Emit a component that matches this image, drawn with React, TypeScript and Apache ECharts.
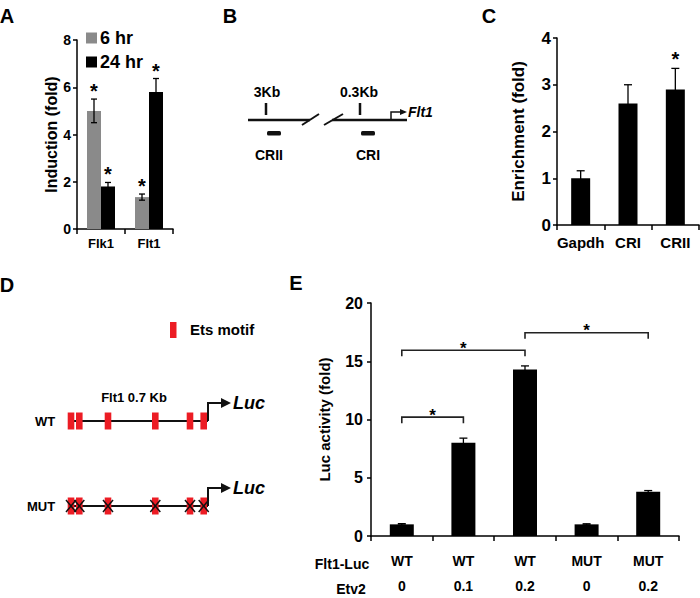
import React, { useEffect, useRef } from "react";
import * as echarts from "echarts";

// ---------- Panel A ----------
const categoriesA = ["Flk1", "Flt1"];
const induction6hr = [5.0, 1.35];
const induction6hrErr = [0.5, 0.13];
const induction24hr = [1.8, 5.8];
const induction24hrErr = [0.17, 0.57];
const sig6hr = [true, true];
const sig24hr = [true, true];
const ticksA = { min: 0, max: 8, interval: 2 };

// ---------- Panel C ----------
const categoriesC = ["Gapdh", "CRI", "CRII"];
const enrichment = [1.0, 2.6, 2.9];
const enrichmentErr = [0.16, 0.4, 0.45];
const sigC = [false, false, true];
const ticksC = { min: 0, max: 4, interval: 1 };

// ---------- Panel E ----------
const flt1Luc = ["WT", "WT", "WT", "MUT", "MUT"];
const etv2 = ["0", "0.1", "0.2", "0", "0.2"];
const lucActivity = [1.0, 8.0, 14.3, 1.0, 3.8];
const lucActivityErr = [0.06, 0.4, 0.3, 0.05, 0.1];
// [from index, to index, bracket height]
const bracketsE = [
  [0, 1, 10.2],
  [0, 2, 15.95],
  [2, 4, 17.45],
];
const ticksE = { min: 0, max: 20, interval: 5 };

const FONT = 'Arial, "Liberation Sans", Helvetica, sans-serif';
const RED = "#ec1c24";
const GRAY = "#8a8a8a";

function errorSeries(
  xi: number,
  values: number[],
  errs: number[],
  sig: boolean[],
  offset: number,
  cap: number,
  starSize: number,
  starGap: number
) {
  return {
    type: "custom",
    xAxisIndex: xi,
    yAxisIndex: xi,
    z: 5,
    silent: true,
    data: values.map((v, i) => [i, v, errs[i], sig[i] ? 1 : 0]),
    encode: { x: 0, y: 1 },
    renderItem: (params: any, api: any) => {
      const c = api.value(0);
      const v = api.value(1);
      const e = api.value(2);
      const s = api.value(3);
      const top = api.coord([c, v + e]);
      const bot = api.coord([c, v - e]);
      const x = top[0] + offset;
      const st = { stroke: "#000", lineWidth: 1.3 };
      const children: any[] = [
        { type: "line", shape: { x1: x, y1: top[1], x2: x, y2: bot[1] }, style: st },
        { type: "line", shape: { x1: x - cap / 2, y1: top[1], x2: x + cap / 2, y2: top[1] }, style: st },
        { type: "line", shape: { x1: x - cap / 2, y1: bot[1], x2: x + cap / 2, y2: bot[1] }, style: st },
      ];
      if (s) {
        children.push({
          type: "text",
          x: x,
          y: top[1] - starGap,
          style: {
            text: "*",
            fontSize: starSize,
            fontWeight: "bold",
            fontFamily: FONT,
            fill: "#000",
            align: "center",
            verticalAlign: "middle",
          },
        });
      }
      return { type: "group", children };
    },
  };
}

function axisY(gi: number, t: { min: number; max: number; interval: number }, name: string, fs: number, nfs: number, gap: number, margin: number) {
  return {
    type: "value",
    gridIndex: gi,
    min: t.min,
    max: t.max,
    interval: t.interval,
    name,
    nameLocation: "middle",
    nameRotate: 90,
    nameGap: gap,
    nameTextStyle: { fontSize: nfs, fontWeight: "bold", fontFamily: FONT, color: "#000" },
    axisLine: { show: true, lineStyle: { color: "#000", width: 1.5 } },
    axisTick: { show: true, length: 4, lineStyle: { color: "#000", width: 1.5 } },
    axisLabel: { fontSize: fs, fontWeight: "bold", fontFamily: FONT, color: "#000", margin },
    splitLine: { show: false },
  };
}

function axisX(gi: number, data: string[], fs: number, margin: number, extra: any = {}) {
  return {
    type: "category",
    gridIndex: gi,
    data,
    axisLine: { show: true, lineStyle: { color: "#000", width: 1.5 } },
    axisTick: { show: true, length: 5, interval: 0, lineStyle: { color: "#000", width: 1.5 } },
    axisLabel: { interval: 0, fontSize: fs, fontWeight: "bold", fontFamily: FONT, color: "#000", margin, ...extra },
  };
}

function txt(x: number, y: number, text: string, size: number, extra: any = {}) {
  return {
    type: "text",
    x,
    y,
    style: {
      text,
      fontSize: size,
      fontWeight: "bold",
      fontFamily: FONT,
      fill: "#000",
      align: "center",
      verticalAlign: "middle",
      ...extra,
    },
  };
}

function ln(x1: number, y1: number, x2: number, y2: number, w = 2.5, color = "#111") {
  return { type: "line", shape: { x1, y1, x2, y2 }, style: { stroke: color, lineWidth: w } };
}

function buildGraphics() {
  const g: any[] = [];
  // Panel letters
  g.push(txt(7, 16, "A", 20));
  g.push(txt(230, 16, "B", 20));
  g.push(txt(489, 16, "C", 20));
  g.push(txt(7, 285, "D", 20));
  g.push(txt(296, 283, "E", 20));

  // ---- Panel B diagram ----
  g.push(ln(248, 120, 310, 120));
  g.push(ln(302, 125, 319, 114, 2));
  g.push(ln(324, 125, 343, 114, 2));
  g.push(ln(332, 120, 407, 120));
  g.push(ln(266, 103, 266, 115, 2.5));
  g.push(ln(360, 103, 360, 115, 2.5));
  g.push(txt(267, 92, "3Kb", 14));
  g.push(txt(359, 92, "0.3Kb", 14));
  g.push({
    type: "polyline",
    shape: { points: [[391, 120], [391, 112], [401, 112]] },
    style: { stroke: "#111", lineWidth: 1.5, fill: null },
  });
  g.push({ type: "polygon", shape: { points: [[400, 109], [407, 112], [400, 115]] }, style: { fill: "#111" } });
  g.push(txt(408, 112, "Flt1", 14, { align: "left", fontStyle: "italic" }));
  g.push({ type: "rect", shape: { x: 267, y: 131, width: 14, height: 4.5, r: 1.5 }, style: { fill: "#111" } });
  g.push({ type: "rect", shape: { x: 361, y: 131, width: 14, height: 4.5, r: 1.5 }, style: { fill: "#111" } });
  g.push(txt(269, 155, "CRII", 14));
  g.push(txt(368, 155, "CRI", 14));

  // ---- Panel D diagram ----
  g.push({ type: "rect", shape: { x: 170, y: 322, width: 6.5, height: 16 }, style: { fill: RED } });
  g.push(txt(190, 329, "Ets motif", 15, { align: "left" }));
  g.push(txt(134, 397, "Flt1 0.7 Kb", 13));
  const motifX = [71, 79.3, 108, 155.3, 190, 203.7];
  const rows = [
    { y: 421, label: "WT", lx: 45, mut: false },
    { y: 506, label: "MUT", lx: 41, mut: true },
  ];
  rows.forEach((r) => {
    g.push(txt(r.lx, r.y, r.label, 13));
    g.push(ln(68, r.y, 208, r.y, 2, "#111"));
    motifX.forEach((cx) => {
      g.push({ type: "rect", shape: { x: cx - 3.3, y: r.y - 8.5, width: 6.6, height: 17 }, style: { fill: RED } });
    });
    if (r.mut) {
      motifX.forEach((cx) => {
        g.push(ln(cx - 5, r.y - 6, cx + 5, r.y + 6, 1.5, "#111"));
        g.push(ln(cx - 5, r.y + 6, cx + 5, r.y - 6, 1.5, "#111"));
      });
    }
    const ay = r.y - 18;
    g.push({
      type: "polyline",
      shape: { points: [[208, r.y], [208, ay], [223, ay]] },
      style: { stroke: "#111", lineWidth: 2, fill: null },
    });
    g.push({ type: "polygon", shape: { points: [[221, ay - 5], [231, ay], [221, ay + 5]] }, style: { fill: "#111" } });
    g.push(txt(233, ay, "Luc", 18, { align: "left", fontStyle: "italic" }));
  });

  // ---- Panel E table row headers ----
  g.push(txt(342, 564, "Flt1-Luc", 14));
  g.push(txt(351, 589, "Etv2", 14));
  return g;
}

export default function App() {
  const ref = useRef<HTMLDivElement>(null);
  useEffect(() => {
    if (!ref.current) return;
    const chart = echarts.init(ref.current, undefined, { renderer: "svg" });
    const option: any = {
      animation: false,
      backgroundColor: "#fff",
      textStyle: { fontFamily: FONT },
      legend: {
        data: ["6 hr", "24 hr"],
        left: 84,
        top: 27,
        orient: "vertical",
        icon: "rect",
        itemWidth: 11,
        itemHeight: 11,
        itemGap: 6,
        padding: 2,
        selectedMode: false,
        textStyle: { fontSize: 18, fontWeight: "bold", fontFamily: FONT, color: "#000", padding: [0, 0, 0, -2] },
      },
      grid: [
        { left: 77, top: 40, width: 96, height: 189 },
        { left: 557, top: 38, width: 142, height: 187 },
        { left: 371, top: 303, width: 308, height: 237 },
      ],
      xAxis: [
        axisX(0, categoriesA, 13, 8),
        axisX(1, categoriesC, 15, 10),
        axisX(2, flt1Luc.map((f, i) => f + "\n" + etv2[i]), 14, 12, { lineHeight: 25 }),
      ],
      yAxis: [
        axisY(0, ticksA, "Induction (fold)", 14, 16, 18, 6),
        axisY(1, ticksC, "Enrichment (fold)", 17, 17, 30, 6),
        axisY(2, ticksE, "Luc activity (fold)", 16, 15, 39, 8),
      ],
      graphic: buildGraphics(),
      series: [
        {
          type: "bar",
          name: "6 hr",
          xAxisIndex: 0,
          yAxisIndex: 0,
          data: induction6hr,
          barWidth: 14,
          barGap: "0%",
          itemStyle: { color: GRAY },
        },
        {
          type: "bar",
          name: "24 hr",
          xAxisIndex: 0,
          yAxisIndex: 0,
          data: induction24hr,
          barWidth: 14,
          barGap: "0%",
          itemStyle: { color: "#000" },
        },
        errorSeries(0, induction6hr, induction6hrErr, sig6hr, -7, 6, 20, 8),
        errorSeries(0, induction24hr, induction24hrErr, sig24hr, 7, 6, 20, 8),
        {
          type: "bar",
          xAxisIndex: 1,
          yAxisIndex: 1,
          data: enrichment,
          barWidth: 19,
          itemStyle: { color: "#000" },
        },
        errorSeries(1, enrichment, enrichmentErr, sigC, 0, 8, 20, 9),
        {
          type: "bar",
          xAxisIndex: 2,
          yAxisIndex: 2,
          data: lucActivity,
          barWidth: 24,
          itemStyle: { color: "#000" },
        },
        errorSeries(2, lucActivity, lucActivityErr, lucActivity.map(() => false), 0, 8, 16, 8),
        {
          type: "custom",
          xAxisIndex: 2,
          yAxisIndex: 2,
          z: 6,
          silent: true,
          data: bracketsE,
          encode: { x: [0, 1], y: 2 },
          renderItem: (params: any, api: any) => {
            const a = api.coord([api.value(0), api.value(2)]);
            const b = api.coord([api.value(1), api.value(2)]);
            return {
              type: "group",
              children: [
                {
                  type: "polyline",
                  shape: { points: [[a[0], a[1] + 6], [a[0], a[1]], [b[0], a[1]], [b[0], a[1] + 6]] },
                  style: { stroke: "#222", lineWidth: 1.6, fill: null },
                },
                {
                  type: "text",
                  x: (a[0] + b[0]) / 2,
                  y: a[1] - 2,
                  style: {
                    text: "*",
                    fontSize: 17,
                    fontWeight: "bold",
                    fontFamily: FONT,
                    fill: "#000",
                    align: "center",
                    verticalAlign: "middle",
                  },
                },
              ],
            };
          },
        },
      ],
    };
    chart.setOption(option);
    return () => chart.dispose();
  }, []);
  return <div ref={ref} style={{ position: "absolute", left: 0, top: 0, width: 700, height: 598 }} />;
}
